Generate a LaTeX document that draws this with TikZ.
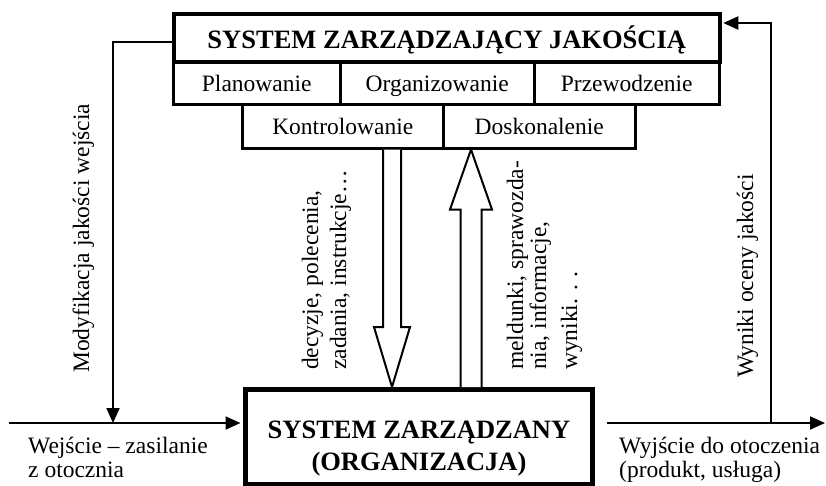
\documentclass[tikz,border=0pt]{standalone}
\usepackage{fontspec}
\setmainfont{Liberation Serif}
\usetikzlibrary{calc,arrows.meta}
\begin{document}
\begin{tikzpicture}[x=1pt,y=-1pt,
  txt/.style={font=\fontsize{23.5}{27}\selectfont, inner sep=0pt},
  vtxt/.style={txt, rotate=90, anchor=base west},
  boldtxt/.style={font=\fontsize{26.5}{32}\selectfont\bfseries, inner sep=0pt},
  cell/.style={draw, line width=2.5pt, anchor=north west, inner sep=0pt,
    text depth=2pt, font=\fontsize{23.5}{27}\selectfont},
  conn/.style={line width=2pt},
  tip/.style={-{Triangle[length=15pt,width=13pt]}},
  hollow/.style={line width=2pt, fill=white, line join=miter}]

\useasboundingbox (0,0) rectangle (826,485);

% managing system: title and its functions
\node[boldtxt, draw, line width=3.5pt, anchor=north west, minimum width=546pt,
  minimum height=48pt, text height=23pt, text depth=2pt]
  (title) at (172,12) {SYSTEM ZARZĄDZAJĄCY JAKOŚCIĄ};
\node[cell, text height=19pt, minimum width=167pt, minimum height=43pt] (plan) at (172,60) {Planowanie};
\node[cell, text height=19pt, minimum width=194pt, minimum height=43pt] (org)  at (339,60) {Organizowanie};
\node[cell, text height=19pt, minimum width=185pt, minimum height=43pt] (lead) at (533,60) {Przewodzenie};
\node[cell, text height=18pt, minimum width=201pt, minimum height=44pt] (ctrl) at (241,103) {Kontrolowanie};
\node[cell, text height=18pt, minimum width=192pt, minimum height=44pt] (impr) at (442,103) {Doskonalenie};

% managed system
\node[draw, line width=5pt, anchor=north west, inner sep=0pt,
  minimum width=347pt, minimum height=95pt] (sysz) at (243,387) {};
\node[boldtxt, anchor=base] (sysz1) at ($(sysz.north)+(0,51)$) {SYSTEM ZARZĄDZANY};
\node[boldtxt, anchor=base] (sysz2) at ($(sysz.north)+(0,83)$) {(ORGANIZACJA)};

% block arrows between the two systems
\coordinate (dn) at (392,0);
\coordinate (up) at (471,0);
\draw[hollow] ($(dn |- ctrl.south)+(-9,0)$) -- ($(dn |- sysz.north)+(-9,-60)$)
  -- ($(dn |- sysz.north)+(-18,-60)$) -- (dn |- sysz.north)
  -- ($(dn |- sysz.north)+(18,-60)$) -- ($(dn |- sysz.north)+(9,-60)$)
  -- ($(dn |- ctrl.south)+(9,0)$);
\draw[hollow] ($(up |- sysz.north)+(-10.5,0)$) -- ($(up |- impr.south)+(-10.5,60)$)
  -- ($(up |- impr.south)+(-21,60)$) -- (up |- impr.south)
  -- ($(up |- impr.south)+(21,60)$) -- ($(up |- impr.south)+(10.5,60)$)
  -- ($(up |- sysz.north)+(10.5,0)$);

% input, output and feedback lines
\coordinate (inStart) at (9,423);
\coordinate (modTurn) at (113,42);
\coordinate (outStart) at (607,423);
\coordinate (outEnd) at (825,423);
\coordinate (fbTurn) at (771,23);
\draw[conn,tip] (inStart) -- ([xshift=-2.5pt]inStart -| sysz.west);
\draw[conn,tip] (title.west |- modTurn) -- (modTurn) -- (modTurn |- inStart);
\draw[conn,tip] (outStart) -- (outEnd);
\draw[conn,tip] (fbTurn |- outStart) -- (fbTurn) -- ([xshift=1.75pt]fbTurn -| title.east);

% labels
\node[vtxt] (modLbl) at (89,373) {Modyfikacja jakości wejścia};
\node[vtxt] (fbLbl) at (753,378) {Wyniki oceny jakości};
\node[vtxt] (dec1) at (318,370) {decyzje, polecenia,};
\node[vtxt] (dec2) at (346,370) {zadania, instrukcje…};
\node[vtxt] (rep1) at (523,370) {meldunki, sprawozda-};
\node[vtxt] (rep2) at (546,370) {nia, informacje,};
\node[vtxt] (rep3) at (577,370) {wyniki. . .};
\node[txt, anchor=base west] (in1) at (28,453) {Wejście – zasilanie};
\node[txt, anchor=base west] (in2) at (28,477) {z otocznia};
\node[txt, anchor=base west] (out1) at (619,453) {Wyjście do otoczenia};
\node[txt, anchor=base west] (out2) at (619,477) {(produkt, usługa)};
\end{tikzpicture}
\end{document}
